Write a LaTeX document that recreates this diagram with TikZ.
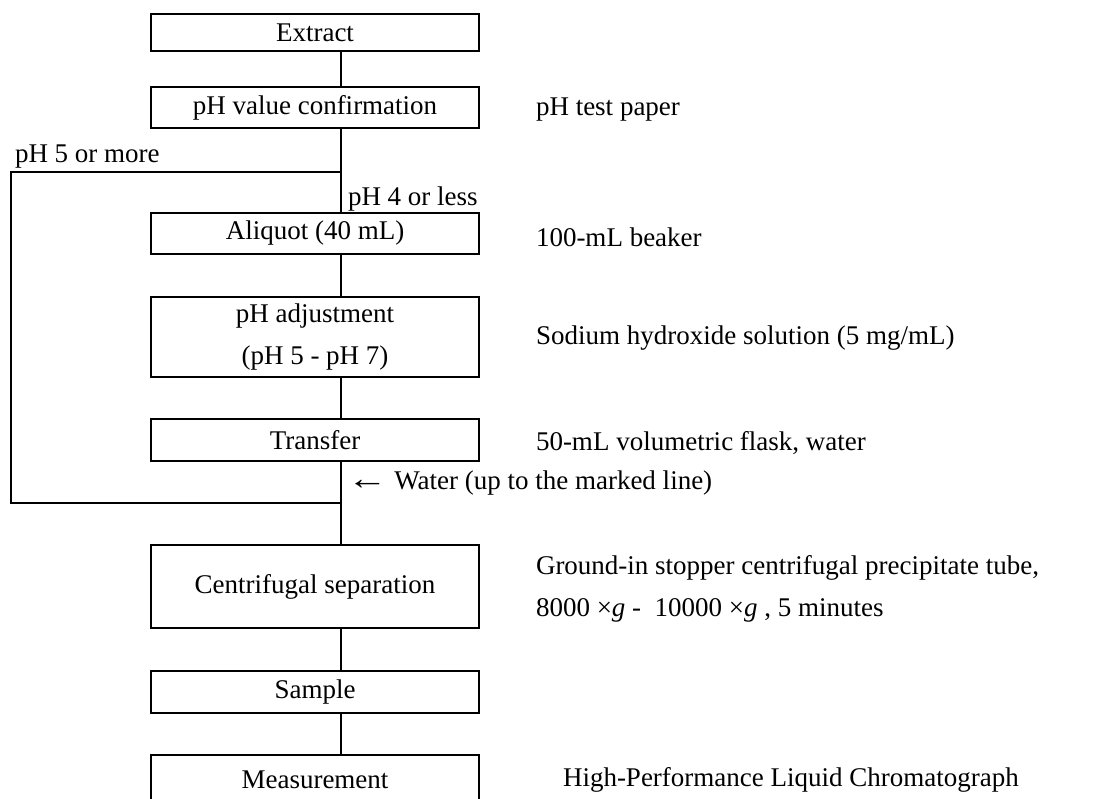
\documentclass[tikz,border=0pt]{standalone}
\usepackage{fontspec}
\setmainfont{Liberation Serif}
\tikzset{
  stepbox/.style={draw, line width=1pt, minimum width=164pt, inner sep=0pt, align=center},
  note/.style={anchor=west, inner sep=0pt, align=left},
}
\begin{document}
\begin{tikzpicture}[x=0.5pt, y=-0.5pt, line width=1pt, font=\fontsize{13.5}{21.3}\selectfont]
    \useasboundingbox (0,0) rectangle (1097,798);
    \clip (0,0) rectangle (1097,798);
    \coordinate (spine) at (341,0);
    \coordinate (rail) at (11,0);
    \node[stepbox, minimum height=18.5pt] (extract) at (315,32.5) {Extract};
    \node[stepbox, minimum height=20.5pt] (phconf) at (315,107.5) {pH value confirmation};
    \node[stepbox, minimum height=20.5pt] (aliquot) at (315,233.5) {Aliquot (40 mL)};
    \node[stepbox, minimum height=40pt] (phadj) at (315,337) {pH adjustment\\(pH 5 - pH 7)};
    \node[stepbox, minimum height=21pt] (transfer) at (315,440) {Transfer};
    \node[stepbox, minimum height=41.5pt] (centri) at (315,586.5) {Centrifugal separation};
    \node[stepbox, minimum height=21pt] (sample) at (315,692) {Sample};
    \node[stepbox, minimum height=25pt] (measure) at (315,780) {Measurement};
    \draw (extract.south -| spine) -- (phconf.north -| spine);
    \draw (phconf.south -| spine) -- (aliquot.north -| spine);
    \draw (aliquot.south -| spine) -- (phadj.north -| spine);
    \draw (phadj.south -| spine) -- (transfer.north -| spine);
    \draw (transfer.south -| spine) -- (centri.north -| spine);
    \draw (centri.south -| spine) -- (sample.north -| spine);
    \draw (sample.south -| spine) -- (measure.north -| spine);
    \coordinate (split) at (341,172);
    \coordinate (merge) at (341,503);
    \draw (split) -- (split -| rail) -- (merge -| rail) -- (merge);
    \node[note] (more) at (14,157) {pH 5 or more};
    \node[note] (less) at (347,199) {pH 4 or less};
    \node[note] (water) at (346,483) {\scalebox{1.5}[1.2]{←} Water (up to the marked line)};
    \node[note] (paper) at (535,110) {pH test paper};
    \node[note] (beaker) at (535,237) {100-mL beaker};
    \node[note] (naoh) at (535,338) {Sodium hydroxide solution (5 mg/mL)};
    \node[note] (flask) at (535,443) {50-mL volumetric flask, water};
    \node[note] (tube) at (535,589) {Ground-in stopper centrifugal precipitate tube,\\8000 ×\textit{g} -\ \ 10000 ×\textit{g} , 5 minutes};
    \node[note] (hplc) at (562,780) {High-Performance Liquid Chromatograph};
\end{tikzpicture}
\end{document}
